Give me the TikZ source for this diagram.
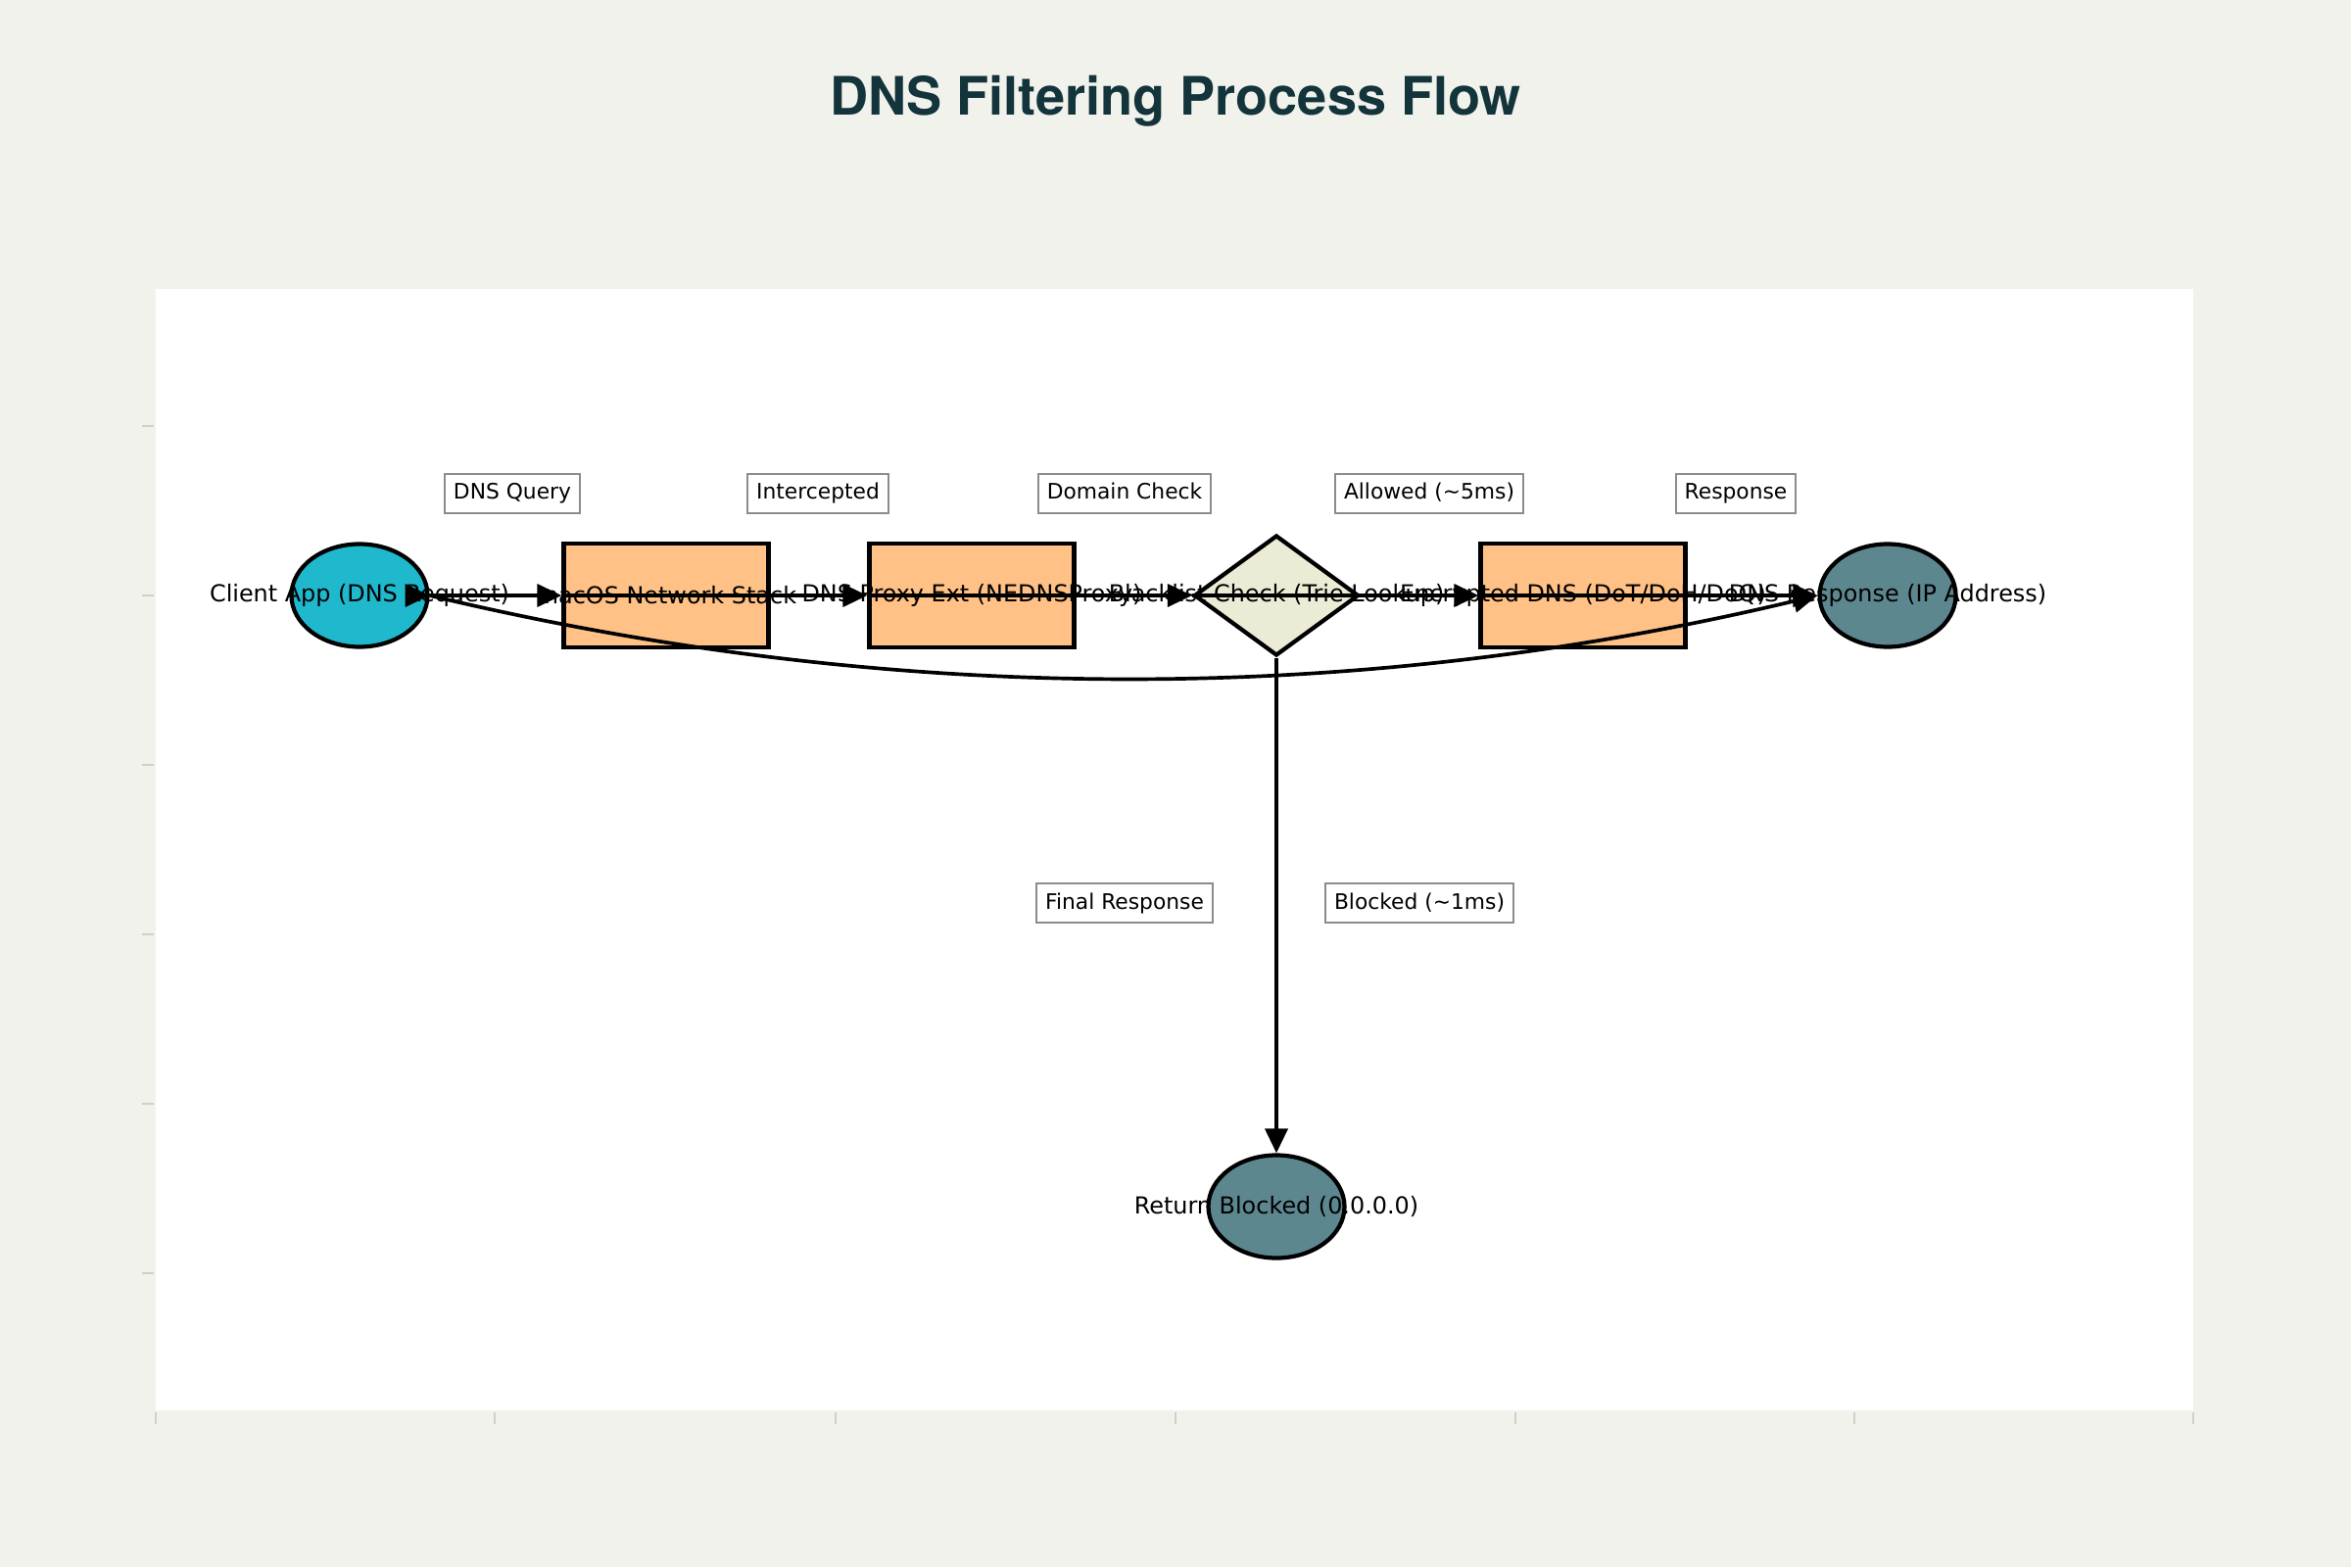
\documentclass[tikz,border=0pt]{standalone}
\usepackage{fontspec}
\setmainfont{DejaVu Sans}
\newfontfamily\titlefont{TeX Gyre Heros}
\usetikzlibrary{shapes.geometric, arrows.meta}
\definecolor{pagebg}{HTML}{F2F2EC}
\definecolor{titleink}{HTML}{13343B}
\definecolor{clientfill}{HTML}{1FB8CD}
\definecolor{procfill}{HTML}{FFC185}
\definecolor{checkfill}{HTML}{ECEBD5}
\definecolor{endfill}{HTML}{5D878F}
\definecolor{tickgrey}{HTML}{D0D0C8}
\definecolor{lblgrey}{HTML}{8C8C8C}
\tikzset{%
    flow/.style={line width=1.05pt, -{Triangle[length=0.25cm, width=0.23cm]}}
}

\begin{document}
\begin{tikzpicture}[proc/.style={draw=black, line width=1.2pt, fill=procfill, minimum width=2.09cm, minimum height=1.06cm, inner sep=0pt},
        term/.style={ellipse, draw=black, line width=1.2pt, minimum width=1.39cm, minimum height=1.05cm, inner sep=0pt},
        txt/.style={font=\fontsize{6.8}{8}\selectfont, inner sep=0pt},
        elbl/.style={draw=lblgrey, line width=0.6pt, fill=white, font=\fontsize{6.2}{7}\selectfont, inner xsep=0.09cm, inner ysep=0.09cm, text height=0.17cm, text depth=0.05cm}]
        % page and plot area
        \useasboundingbox (0,0) rectangle (24,-16);
        \fill[pagebg] (0,0) rectangle (24,-16);
        \fill[white] (1.59,-2.95) rectangle (22.39,-14.40);
        \foreach \y in {4.35,6.08,7.81,9.54,11.27,13.00}
            \draw[tickgrey, line width=0.5pt] (1.45,-\y) -- (1.57,-\y);
        \foreach \x in {1.59,5.05,8.53,12.00,15.47,18.93,22.39}
            \draw[tickgrey, line width=0.5pt] (\x,-14.42) -- (\x,-14.54);
        \node[font=\titlefont\bfseries\fontsize{15.4}{18}\selectfont, text=titleink, anchor=base] (title) at (12,-1.18) {DNS Filtering Process Flow};

        % nodes
        \node[term, fill=clientfill, label={[txt]center:Client App (DNS Request)}] (client) at (3.67,-6.08) {};
        \node[proc, label={[txt]center:macOS Network Stack}] (macos) at (6.80,-6.08) {};
        \node[proc, label={[txt]center:DNS Proxy Ext (NEDNSProxy)}] (proxy) at (9.92,-6.08) {};
        \node[diamond, draw=black, line width=1.2pt, fill=checkfill, minimum width=1.68cm, minimum height=1.23cm, inner sep=0pt, label={[txt]center:Blacklist Check (Trie Lookup)}] (check) at (13.03,-6.08) {};
        \node[proc, label={[txt]center:Encrypted DNS (DoT/DoH/DoQ)}] (encdns) at (16.16,-6.08) {};
        \node[term, fill=endfill, label={[txt]center:DNS Response (IP Address)}] (response) at (19.27,-6.08) {};
        \node[term, fill=endfill, label={[txt]center:Return Blocked (0.0.0.0)}] (blocked) at (13.03,-12.32) {};
        \coordinate (ctail) at ([xshift=-0.25cm]client.east);

        % connectors
        \path[]
            (ctail) edge[flow] (client.east)
            (client.east) edge[flow] (macos.west)
            (macos.west) edge[flow] (proxy.west)
            (proxy.west) edge[flow] (check.west)
            (check.west) edge[flow] (encdns.west)
            (encdns.west) edge[flow] (response.west)
            (check.south) edge[flow] (blocked.north);
        \draw[flow] (client.east) .. controls +(4.73,-1.13) and +(-4.73,-1.13) .. (response.west);

        % edge labels
        \node[elbl] (lquery) at (5.23,-5.04) {DNS Query};
        \node[elbl] (lintercept) at (8.35,-5.04) {Intercepted};
        \node[elbl] (ldomain) at (11.48,-5.04) {Domain Check};
        \node[elbl] (lallowed) at (14.59,-5.04) {Allowed (\textasciitilde5ms)};
        \node[elbl] (lresp) at (17.72,-5.04) {Response};
        \node[elbl] (lfinal) at (11.48,-9.22) {Final Response};
        \node[elbl] (lblocked) at (14.49,-9.22) {Blocked (\textasciitilde1ms)};
    \end{tikzpicture}
\end{document}
